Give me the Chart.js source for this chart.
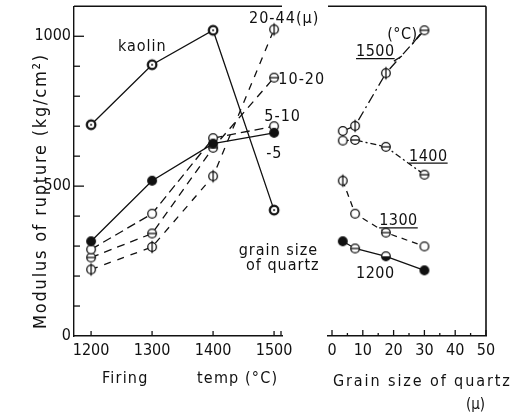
<!DOCTYPE html>
<html><head><meta charset="utf-8">
<script src="https://cdn.jsdelivr.net/npm/chart.js@4/dist/chart.umd.min.js"></script>
<style>
html,body{margin:0;padding:0;background:#fff;}
#wrap{position:relative;width:520px;height:415px;background:#fff;}
canvas{position:absolute;left:0;top:0;}
</style>
</head><body>
<div id="wrap"><canvas id="cL" width="520" height="415"></canvas><canvas id="cR" width="520" height="415"></canvas></div>
<script>
// ---------- data ----------
const firingTemps = [1200, 1300, 1400, 1500];
const tempTicks = [1200, 1300, 1400, 1500];
const strengthTicks = [0, 500, 1000];
const kaolin = [705, 905, 1020, 420];
const quartzUnder5 = [316, 518, 642, 678];
const quartz5to10 = [289, 408, 660, 700];
const quartz10to20 = [262, 342, 628, 862];
const quartz20to44 = [222, 297, 533, 1023];

const grainSizes = [3.5, 7.5, 17.5, 30];
const grainTicks = [0, 10, 20, 30, 40, 50];
const fired1500 = [684, 701, 877, 1020];
const fired1400 = [652, 654, 631, 538];
const fired1300 = [518, 408, 345, 299];
const fired1200 = [316, 292, 266, 219];

// ---------- styling ----------
const FONT = '"DejaVu Sans Condensed", "DejaVu Sans", sans-serif';
const INK = '#111';

function marker(kind) {
  const s = 16, r = 4.3, m = s / 2;
  const c = document.createElement('canvas'); c.width = s; c.height = s;
  const g = c.getContext('2d');
  g.lineWidth = 1.3; g.strokeStyle = INK; g.fillStyle = '#fff';
  g.beginPath(); g.arc(m, m, r, 0, Math.PI * 2);
  if (kind === 'filled') { g.fillStyle = INK; g.fill(); g.stroke(); }
  else { g.fill(); g.stroke(); }
  if (kind === 'bar') { g.beginPath(); g.moveTo(m - r, m); g.lineTo(m + r, m); g.stroke(); }
  if (kind === 'phi') { g.beginPath(); g.moveTo(m, m - r - 2); g.lineTo(m, m + r + 2); g.stroke(); }
  if (kind === 'half') { g.beginPath(); g.arc(m, m, r, 0, Math.PI); g.closePath(); g.fillStyle = INK; g.fill(); }
  if (kind === 'dot') {
    g.beginPath(); g.arc(m, m, r, 0, Math.PI * 2); g.lineWidth = 2.2; g.stroke();
    g.beginPath(); g.arc(m, m, 1, 0, Math.PI * 2); g.fillStyle = INK; g.fill();
  }
  return c;
}
const MK = { filled: marker('filled'), open: marker('open'), bar: marker('bar'), phi: marker('phi'), half: marker('half'), dot: marker('dot') };

function pts(xs, ys) { return xs.map((x, i) => ({ x, y: ys[i] })); }

function text(ctx, str, x, y, opt = {}) {
  ctx.save();
  const size = opt.size || 16;
  ctx.font = size + 'px ' + FONT;
  ctx.fillStyle = INK;
  ctx.textAlign = opt.align || 'left';
  ctx.textBaseline = 'alphabetic';
  try { ctx.letterSpacing = (opt.spacing != null ? opt.spacing : 1) + 'px'; } catch (e) {}
  if (opt.bg) {
    const w = ctx.measureText(str).width;
    ctx.fillStyle = '#fff';
    ctx.fillRect(x - 1, y - size * 0.78, w + 2, size * 0.85);
    ctx.fillStyle = INK;
  }
  ctx.fillText(str, x, y);
  if (opt.underline) {
    const w = ctx.measureText(str).width;
    ctx.beginPath(); ctx.lineWidth = 1.2; ctx.strokeStyle = INK;
    ctx.moveTo(x, y + 2.5); ctx.lineTo(x + w, y + 2.5); ctx.stroke();
  }
  ctx.restore();
}
function line(ctx, x1, y1, x2, y2, w = 1.4) {
  ctx.save(); ctx.beginPath(); ctx.strokeStyle = INK; ctx.lineWidth = w;
  ctx.moveTo(x1, y1); ctx.lineTo(x2, y2); ctx.stroke(); ctx.restore();
}

function fixedAxis(size, horizontal) {
  return function (s) {
    if (horizontal) s.height = size; else s.width = size;
    s.paddingTop = 0; s.paddingBottom = 0; s.paddingLeft = 0; s.paddingRight = 0;
  };
}
const tickFont = { family: FONT, size: 16 };
const plain = v => String(v);

// ---------- left chart: strength vs firing temperature ----------
const leftNotes = [
  { text: 'kaolin', x: 1244, y: 950 },
  { text: '20-44(μ)', x: 1459, y: 1043 },
  { text: '10-20', x: 1507, y: 840 },
  { text: '5-10', x: 1484, y: 718 },
  { text: '-5', x: 1487, y: 595 },
  { text: 'grain size', x: 1442, y: 269 },
  { text: 'of quartz', x: 1454, y: 219 }
];

const leftDeco = {
  id: 'leftDeco',
  afterDraw(chart) {
    const { ctx, chartArea: a, scales: { x, y } } = chart;
    line(ctx, a.left, a.top, a.right, a.top, 1.4);
    for (let v = 100; v <= 1000; v += 100) {
      const py = y.getPixelForValue(v);
      line(ctx, a.left, py, a.left + (v % 500 === 0 ? 10 : 6), py, 1.3);
    }
    tempTicks.forEach(v => { const px = x.getPixelForValue(v); line(ctx, px, a.bottom, px, a.bottom - 5, 1.3); });
    line(ctx, a.right - 1, a.bottom, a.right - 1, a.bottom - 5, 1.3);
    leftNotes.forEach(n => text(ctx, n.text, x.getPixelForValue(n.x), y.getPixelForValue(n.y), { size: 16, spacing: 1 }));
    text(ctx, 'Firing', 102, 383, { size: 16, spacing: 1.2 });
    text(ctx, 'temp', 197, 383, { size: 16, spacing: 1.2 });
    text(ctx, '(°C)', 245, 383, { size: 16, spacing: 1.2 });
    ctx.save();
    ctx.translate(46, 191); ctx.rotate(-Math.PI / 2);
    const str = 'Modulus of rupture (kg/cm²)';
    ctx.font = '18px ' + FONT;
    try { ctx.letterSpacing = '0px'; } catch (e) {}
    const w0 = ctx.measureText(str).width;
    const sp = Math.max(0, (274 - w0) / (str.length - 1));
    text(ctx, str, 0, 0, { size: 18, spacing: sp, align: 'center' });
    ctx.restore();
  }
};

new Chart(document.getElementById('cL'), {
  type: 'line',
  data: {
    datasets: [
      { label: 'kaolin', data: pts(firingTemps, kaolin), borderDash: [], pointStyle: MK.dot },
      { label: '-5', data: pts(firingTemps, quartzUnder5), borderDash: [], pointStyle: MK.filled },
      { label: '5-10', data: pts(firingTemps, quartz5to10), borderDash: [9, 5], pointStyle: MK.open },
      { label: '10-20', data: pts(firingTemps, quartz10to20), borderDash: [8, 6], pointStyle: MK.bar },
      { label: '20-44', data: pts(firingTemps, quartz20to44), borderDash: [7, 7], pointStyle: MK.phi }
    ].map(d => Object.assign({ borderColor: INK, borderWidth: 1.3, fill: false, tension: 0, pointRadius: 5 }, d))
  },
  options: {
    responsive: false, animation: false, devicePixelRatio: 1,
    layout: { padding: { left: 0, right: 238, top: 5, bottom: 0 } },
    plugins: { legend: { display: false }, tooltip: { enabled: false } },
    scales: {
      x: {
        type: 'linear', min: 1172, max: 1513,
        afterBuildTicks: s => { s.ticks = tempTicks.map(v => ({ value: v })); },
        afterFit: fixedAxis(79, true),
        grid: { display: false, drawTicks: false },
        border: { display: true, color: INK, width: 1.4 },
        ticks: { color: INK, font: tickFont, padding: 5, maxRotation: 0, autoSkip: false, callback: plain }
      },
      y: {
        type: 'linear', min: 0, max: 1100,
        afterBuildTicks: s => { s.ticks = strengthTicks.map(v => ({ value: v })); },
        afterFit: fixedAxis(74, false),
        grid: { display: false, drawTicks: false },
        border: { display: true, color: INK, width: 1.4 },
        ticks: { color: INK, font: tickFont, padding: 3, callback: plain }
      }
    }
  },
  plugins: [leftDeco]
});

// ---------- right chart: strength vs grain size ----------
const rightNotes = [
  { text: '(°C)', x: 17.9, y: 990, ul: false },
  { text: '1500', x: 7.8, y: 934, ul: true },
  { text: '1400', x: 25, y: 585, ul: true, bg: true },
  { text: '1300', x: 15.3, y: 369, ul: true },
  { text: '1200', x: 7.8, y: 193, ul: false }
];
const rightLeaders = [
  [20.1, 917, 22.7, 934],
  [28.6, 1007, 26.0, 973]
];

const rightDeco = {
  id: 'rightDeco',
  afterDraw(chart) {
    const { ctx, chartArea: a, scales: { x, y } } = chart;
    line(ctx, a.left, a.top, a.right, a.top, 1.4);
    line(ctx, a.right, a.top, a.right, a.bottom, 1.6);
    for (let v = 0; v <= 50; v += 5) {
      const px = x.getPixelForValue(v);
      line(ctx, px, a.bottom, px, a.bottom - (v % 10 === 0 ? 6 : 3), 1.3);
    }
    rightLeaders.forEach(l => line(ctx, x.getPixelForValue(l[0]), y.getPixelForValue(l[1]), x.getPixelForValue(l[2]), y.getPixelForValue(l[3]), 1.3));
    rightNotes.forEach(n => text(ctx, n.text, x.getPixelForValue(n.x), y.getPixelForValue(n.y), { size: 16, spacing: 0.5, underline: n.ul, bg: n.bg }));
    text(ctx, 'Grain size of quartz', 333, 386, { size: 16, spacing: 1.9 });
    text(ctx, '(μ)', 466, 409, { size: 15, spacing: 0 });
  }
};

new Chart(document.getElementById('cR'), {
  type: 'line',
  data: {
    datasets: [
      { label: '1500', data: pts(grainSizes, fired1500), borderDash: [10, 4, 2, 4], pointStyle: [MK.open, MK.phi, MK.phi, MK.bar] },
      { label: '1400', data: pts(grainSizes, fired1400), borderDash: [6, 3, 2, 3], pointStyle: [MK.open, MK.bar, MK.bar, MK.bar] },
      { label: '1300', data: pts(grainSizes, fired1300), borderDash: [6, 5], pointStyle: [MK.phi, MK.open, MK.bar, MK.open] },
      { label: '1200', data: pts(grainSizes, fired1200), borderDash: [], pointStyle: [MK.filled, MK.bar, MK.half, MK.filled] }
    ].map(d => Object.assign({ borderColor: INK, borderWidth: 1.3, fill: false, tension: 0, pointRadius: 5 }, d))
  },
  options: {
    responsive: false, animation: false, devicePixelRatio: 1,
    layout: { padding: { left: 328, right: 34, top: 5, bottom: 0 } },
    plugins: { legend: { display: false }, tooltip: { enabled: false } },
    scales: {
      x: {
        type: 'linear', min: -1.3, max: 50,
        afterBuildTicks: s => { s.ticks = grainTicks.map(v => ({ value: v })); },
        afterFit: fixedAxis(79, true),
        grid: { display: false, drawTicks: false },
        border: { display: true, color: INK, width: 1.4 },
        ticks: { color: INK, font: tickFont, padding: 5, maxRotation: 0, autoSkip: false, callback: plain }
      },
      y: { type: 'linear', min: 0, max: 1100, display: false, afterFit: fixedAxis(0, false) }
    }
  },
  plugins: [rightDeco]
});
</script>
</body></html>
